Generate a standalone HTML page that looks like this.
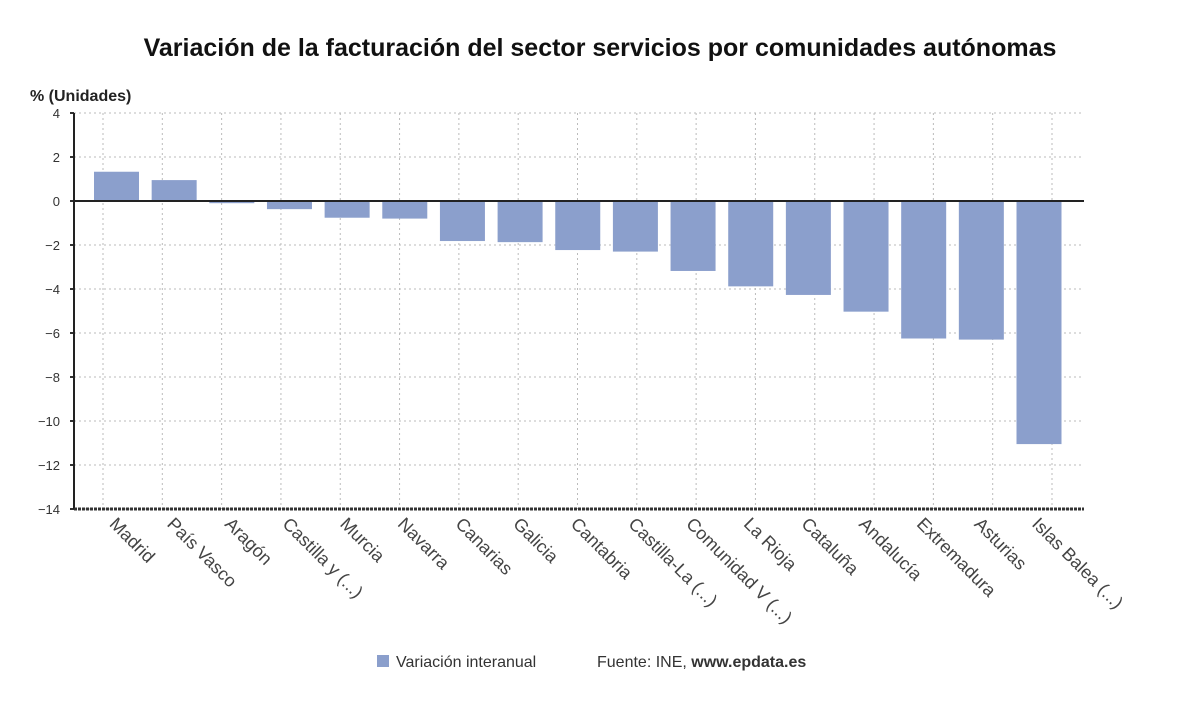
<!DOCTYPE html>
<html><head><meta charset="utf-8"><style>
body{margin:0;background:#fff;font-family:"Liberation Sans",sans-serif}
</style></head><body>
<svg width="1200" height="705" viewBox="0 0 1200 705" xmlns="http://www.w3.org/2000/svg" font-family="Liberation Sans, sans-serif">
<rect width="1200" height="705" fill="#fff"/>
<text x="600" y="56" text-anchor="middle" font-size="25" font-weight="bold" fill="#111">Variación de la facturación del sector servicios por comunidades autónomas</text>
<text x="30" y="101" font-size="16" font-weight="bold" fill="#222">% (Unidades)</text>
<g id="grid"></g>
<g id="bars"></g>
<g id="axes"></g>
<g id="labels"></g>
<g>
<rect x="377" y="655" width="12" height="12" fill="#8b9fcc"/>
<text x="396" y="667" font-size="16" fill="#333">Variación interanual</text>
<text x="597" y="667" font-size="16" fill="#333">Fuente: INE, <tspan font-weight="bold">www.epdata.es</tspan></text>
</g>
</svg>
<script>
const categories=["Madrid","País Vasco","Aragón","Castilla y (...)","Murcia","Navarra","Canarias","Galicia","Cantabria","Castilla-La (...)","Comunidad V (...)","La Rioja","Cataluña","Andalucía","Extremadura","Asturias","Islas Balea (...)"];
const values=[1.33,0.95,-0.1,-0.37,-0.76,-0.8,-1.82,-1.87,-2.23,-2.3,-3.18,-3.88,-4.27,-5.03,-6.25,-6.3,-11.05];
const yTicks=[4,2,0,-2,-4,-6,-8,-10,-12,-14];
const NS="http://www.w3.org/2000/svg";
const x0=74,x1=1084,yTop=113,yBot=509,yMin=-14,yMax=4;
const y=v=>yTop+(yMax-v)/(yMax-yMin)*(yBot-yTop);
const barStep=(1039-116.5)/(categories.length-1);
const cx=i=>116.5+barStep*i;
const gridStep=(1052-103)/(categories.length-1);
const gx=i=>103+gridStep*i;
function mk(tag,attrs,parent){const e=document.createElementNS(NS,tag);for(const k in attrs)e.setAttribute(k,attrs[k]);document.getElementById(parent).appendChild(e);return e;}
yTicks.forEach(t=>{
  const g=mk('line',{x1:x0,x2:x1,y1:y(t),y2:y(t),stroke:'#bbb','stroke-dasharray':'2,3'},'grid');
  
  
  const tx=mk('text',{x:60,y:y(t)+5,'text-anchor':'end','font-size':'13',fill:'#333'},'axes');
  tx.textContent=t<0?'−'+Math.abs(t):String(t);
  
  
  const tk=mk('line',{x1:x0-4,x2:x0,y1:y(t),y2:y(t),stroke:'#333','stroke-width':2},'axes');
  
  
});
categories.forEach((c,i)=>{
  const g=mk('line',{x1:gx(i),x2:gx(i),y1:yTop,y2:yBot,stroke:'#bbb','stroke-dasharray':'2,3'},'grid');
  
  
  const v=values[i];
  const b=mk('rect',{x:cx(i)-22.5,width:45,y:Math.min(y(v),y(0)),height:Math.abs(y(v)-y(0)),fill:'#8b9fcc'},'bars');
  
  
  const lx=cx(i)-8,ly=yBot+16;
  const t=mk('text',{x:lx,y:ly,'font-size':'18',fill:'#444',transform:`rotate(45 ${lx} ${ly})`},'labels');
  t.textContent=c;
  
  
});
const a1=mk('line',{x1:x0,x2:x0,y1:yTop,y2:yBot,stroke:'#222','stroke-width':2},'axes');


const a2=mk('line',{x1:x0,x2:x1,y1:y(0),y2:y(0),stroke:'#222','stroke-width':2},'axes');


const a3=mk('line',{x1:x0,x2:x1,y1:yBot,y2:yBot,stroke:'#333','stroke-width':3,'stroke-dasharray':'3,1'},'axes');


</script>
</body></html>
